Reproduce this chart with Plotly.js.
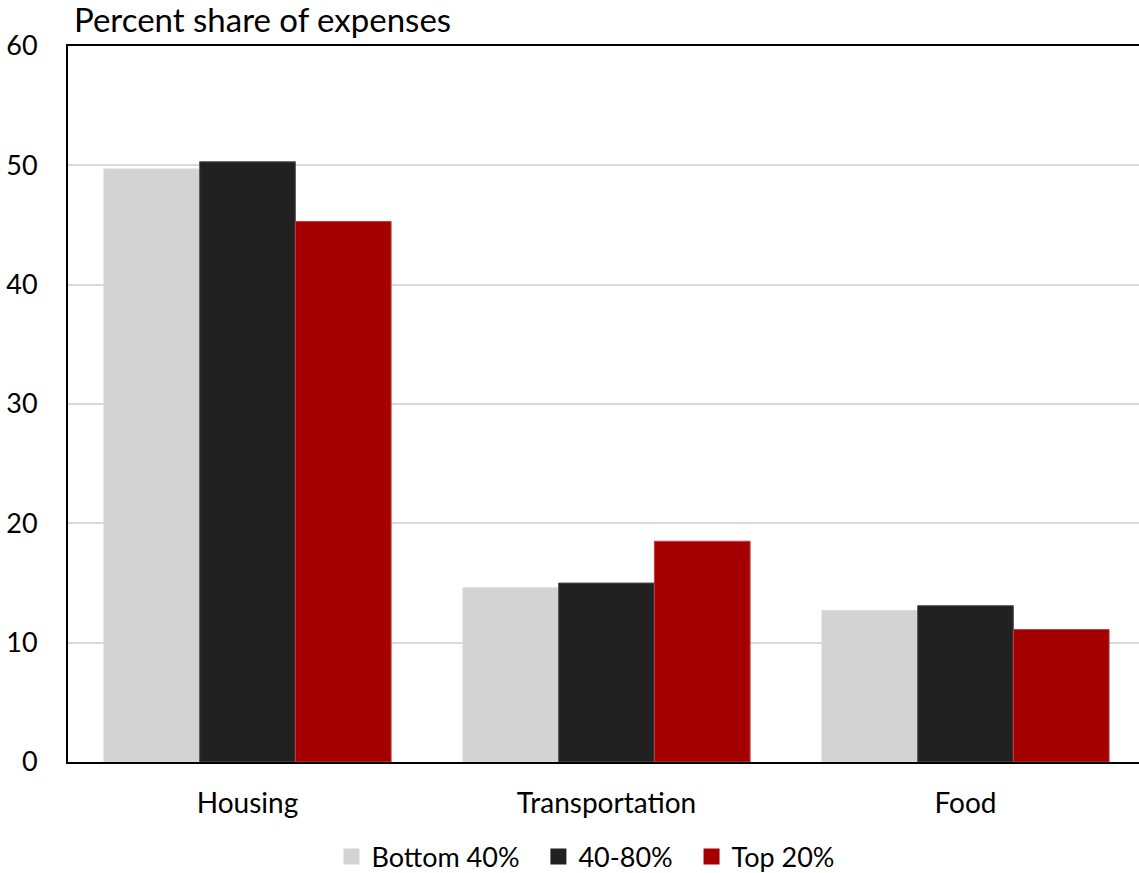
<!DOCTYPE html>
<html>
<head>
<meta charset="utf-8">
<script src="https://cdn.plot.ly/plotly-3.0.1.min.js"></script>
<style>
html,body{margin:0;padding:0;overflow:hidden;background:#fff;}
#chart{width:1146px;height:873px;}
</style>
</head>
<body>
<div id="chart"></div>
<script>
const categories = ["Housing", "Transportation", "Food"];
const seriesNames = ["Bottom 40%", "40-80%", "Top 20%"];
const bottom40 = [49.7, 14.6, 12.7];
const middle40to80 = [50.3, 15.0, 13.1];
const top20 = [45.3, 18.5, 11.1];
const yTicks = [0, 10, 20, 30, 40, 50, 60];
const titleText = "Percent share of expenses";

const colors = ["#d3d3d3", "#212121", "#a50000"];
const lineColors = ["#dcdcdc", "#555555", "#c04040"];
const values = [bottom40, middle40to80, top20];
const FONT = "Lato, 'Noto Sans', sans-serif";

const traces = values.map((v, i) => ({
  type: "bar",
  name: seriesNames[i],
  x: categories,
  y: v,
  marker: {color: colors[i], line: {color: lineColors[i], width: 1}},
  showlegend: false,
  hoverinfo: "x+y+name"
}));
// legend proxies
seriesNames.forEach((n, i) => traces.push({
  type: "scatter", mode: "markers", name: n + (i < seriesNames.length - 1 ? "\u00a0\u00a0" : ""),
  x: [null], y: [null],
  marker: {symbol: "square", size: 17, color: colors[i]},
  showlegend: true
}));

const layout = {
  width: 1146, height: 873,
  margin: {l: 68, r: 1, t: 46, b: 111},
  paper_bgcolor: "#fff", plot_bgcolor: "#fff",
  font: {family: FONT, size: 27, color: "#000"},
  title: {
    text: titleText,
    font: {family: FONT, size: 33, color: "#000"},
    x: 74/1146, xanchor: "left", xref: "container",
    y: 1 - 20/873, yanchor: "middle", yref: "container"
  },
  barmode: "group", bargap: 0.2, bargroupgap: 0,
  xaxis: {
    range: [-0.5, 2.5],
    showline: true, linecolor: "#000", linewidth: 2, mirror: true,
    showgrid: false, ticks: "", ticklabelstandoff: 15,
    tickfont: {family: FONT, size: 28, color: "#000"},
    fixedrange: true
  },
  yaxis: {
    range: [0, 60], tickvals: yTicks, ticktext: yTicks.map(String),
    showline: true, linecolor: "#000", linewidth: 2, mirror: true,
    showgrid: true, gridcolor: "#d9d9d9", gridwidth: 2,
    zeroline: false, ticks: "", ticklabelstandoff: 23,
    tickfont: {family: FONT, size: 27, color: "#000"},
    fixedrange: true
  },
  legend: {
    orientation: "h", xref: "container", yref: "container",
    x: 586/1146, xanchor: "center", y: 1 - 857/873, yanchor: "middle",
    font: {family: FONT, size: 27, color: "#000"},
    itemwidth: 30, tracegroupgap: 0, bgcolor: "rgba(0,0,0,0)"
  },
  showlegend: true
};

Plotly.newPlot("chart", traces, layout, {displayModeBar: false, staticPlot: true});
</script>
</body>
</html>
